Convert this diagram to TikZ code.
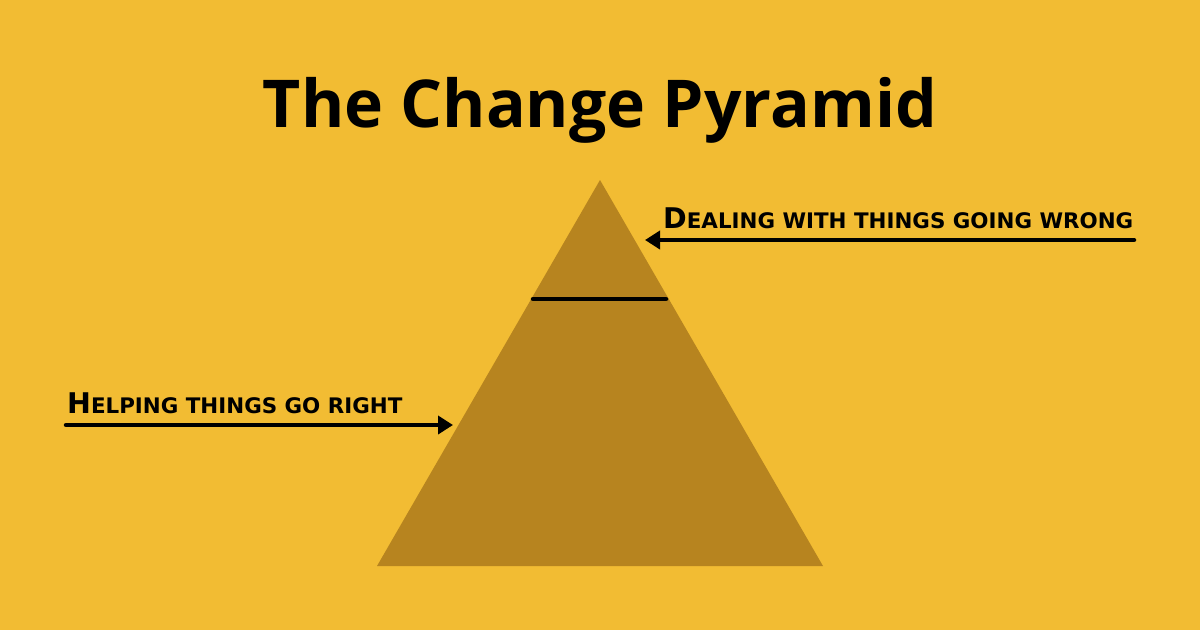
\documentclass[tikz,border=0pt]{standalone}
\usepackage{fontspec}
\setmainfont{Open Sans}
\newfontfamily\labfont{DejaVu Sans}
\usetikzlibrary{arrows.meta}

\definecolor{bgyellow}{HTML}{F2BC33}
\definecolor{pyrbrown}{HTML}{B7841F}

% initial capital big, the rest as small capitals
\newcommand\fakesc[2]{{\fontsize{28.5}{28.5}\selectfont #1}{\fontsize{21.4}{21.4}\selectfont #2}}

\begin{document}
\begin{tikzpicture}[x=1pt,y=-1pt,
  titletext/.style={font=\fontsize{66}{66}\selectfont\bfseries, inner sep=0pt, anchor=base},
  lab/.style={font=\labfont\bfseries, inner sep=0pt, anchor=base west},
  pointer/.style={line width=4.5pt, line cap=round, -{Triangle[length=15pt,width=18pt]}}]

\fill[bgyellow] (0,0) rectangle (1200,630);

\coordinate (apex) at (600,180);
\coordinate (baseleft) at (377,566);
\coordinate (baseright) at (823,566);
\fill[pyrbrown] (apex) -- (baseleft) -- (baseright) -- cycle;

\coordinate (divleft) at (533,299);
\coordinate (divright) at (666,299);
\draw[line width=4.5pt, line cap=round] (divleft) -- (divright);

\node[titletext] (title) at (600,127) {The Change Pyramid};

\node[lab] (wrong) at (663,228) {\fakesc{D}{EALING WITH THINGS GOING WRONG}};
\coordinate (wrongtail) at (1134,240);
\coordinate (wronghead) at (645,240);
\draw[pointer] (wrongtail) -- (wronghead);

\node[lab] (right) at (67,413) {\fakesc{H}{ELPING THINGS GO RIGHT}};
\coordinate (righttail) at (66,425);
\coordinate (righthead) at (453,425);
\draw[pointer] (righttail) -- (righthead);

\end{tikzpicture}
\end{document}
